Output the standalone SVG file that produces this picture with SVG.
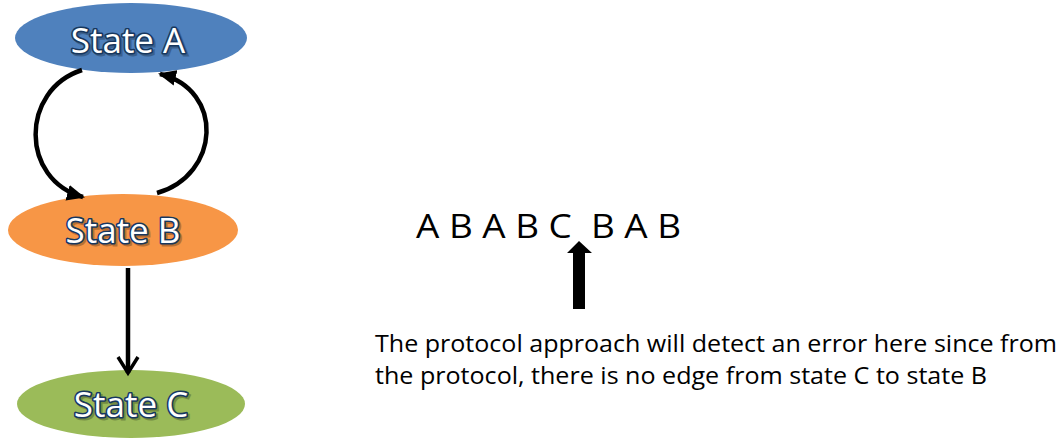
<svg xmlns="http://www.w3.org/2000/svg" width="1064" height="438" viewBox="0 0 1064 438">
<style>
.lbl{font-family:"Open Sans","Liberation Sans",sans-serif;font-size:35px;text-anchor:middle}
.fg{fill:#ffffff;stroke:#17375e;stroke-width:3.2px;stroke-linejoin:round;paint-order:stroke fill}
.sd{fill:#000000;opacity:0.25;stroke:#000000;stroke-width:3px}
.txt{font-family:"Open Sans","Liberation Sans",sans-serif;fill:#000000}
.conn{fill:none;stroke:#000000;stroke-width:4.5}
</style>
<defs>
<marker id="tri" markerUnits="userSpaceOnUse" markerWidth="18" markerHeight="16" viewBox="0 0 18 16" refX="16" refY="8" orient="auto">
<path d="M0,0 L18,8 L0,16 z" fill="#000"/>
</marker>
<marker id="vee" markerUnits="userSpaceOnUse" markerWidth="24" markerHeight="24" viewBox="0 0 24 24" refX="20" refY="12" orient="auto">
<path d="M4,2 L20,12 L4,22" fill="none" stroke="#000" stroke-width="3.5"/>
</marker>
</defs>
<rect width="1064" height="438" fill="#ffffff"/>
<g id="stateA">
<ellipse cx="131" cy="38" rx="116" ry="35" fill="#4f81bd"/>
<text class="lbl sd" x="130" y="55">State A</text>
<text class="lbl fg" x="128" y="53">State A</text>
</g>
<g id="stateB">
<ellipse cx="123" cy="230" rx="115" ry="36" fill="#f79646"/>
<text class="lbl sd" x="125" y="245">State B</text>
<text class="lbl fg" x="123" y="243">State B</text>
</g>
<g id="stateC">
<ellipse cx="131" cy="404" rx="114" ry="34" fill="#9bbb59"/>
<text class="lbl sd" x="133" y="419">State C</text>
<text class="lbl fg" x="131" y="417">State C</text>
</g>
<g id="connectors">
<path class="conn" d="M82 70 C20 90 20 180 83 197" marker-end="url(#tri)"/>
<path class="conn" d="M157 193 C220 175 225 90 160 74" marker-end="url(#tri)"/>
<path class="conn" d="M128 268 L128 373" marker-end="url(#vee)"/>
</g>
<g id="sequence">
<text class="txt" x="416" y="238" font-size="32" textLength="265" lengthAdjust="spacingAndGlyphs" xml:space="preserve">A B A B C  B A B</text>
<path d="M573 309 L585 309 L585 253 L592 253 L579 241 L567 253 L573 253 Z" fill="#000"/>
</g>
<g id="caption">
<text class="txt" x="375" y="352" font-size="24" textLength="682" lengthAdjust="spacingAndGlyphs">The protocol approach will detect an error here since from</text>
<text class="txt" x="375" y="384" font-size="24" textLength="612" lengthAdjust="spacingAndGlyphs">the protocol, there is no edge from state C to state B</text>
</g>
</svg>
